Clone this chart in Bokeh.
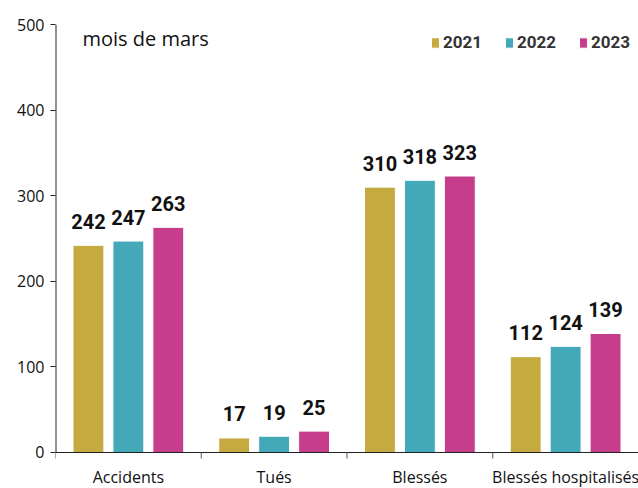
from bokeh.plotting import figure
from bokeh.models import FixedTicker, Legend, LegendItem, ColumnDataSource, Range1d, Label
from bokeh.core.properties import value
from bokeh.embed import file_html
from bokeh.resources import INLINE

categories = ["Accidents", "Tués", "Blessés", "Blessés hospitalisés"]
years = ["2021", "2022", "2023"]
v2021 = [242, 17, 310, 112]
v2022 = [247, 19, 318, 124]
v2023 = [263, 25, 323, 139]
colors = ["#C5AA40", "#43A8B8", "#C63E8B"]
series = [v2021, v2022, v2023]

p = figure(width=638, height=488, output_backend="svg", toolbar_location=None,
           x_range=Range1d(0, 4), y_range=Range1d(-42.06, 500),
           x_axis_location=None,
           min_border_left=55, min_border_right=0, min_border_top=24, min_border_bottom=0)
p.outline_line_color = None
p.xgrid.visible = False
p.ygrid.visible = False
p.background_fill_color = "white"
p.border_fill_color = "white"

offsets = [-0.274, 0.0, 0.274]
items = []
for i, (yr, vals, col) in enumerate(zip(years, series, colors)):
    xs = [k + 0.5 + offsets[i] for k in range(len(categories))]
    src = ColumnDataSource(dict(x=xs, top=vals, lab=[str(v) for v in vals]))
    r = p.vbar(x="x", top="top", bottom=0, width=0.212, source=src, fill_color=col,
               line_color="white", line_width=1)
    p.text(x="x", y="top", text="lab", source=src, text_align="center",
           text_baseline="alphabetic", y_offset=-24, text_font=value("Roboto"),
           text_font_style="bold", text_font_size="20px", text_color="#111111")
    items.append(LegendItem(label=yr, renderers=[r]))

# category axis drawn manually so labels sit like the reference
bounds = list(range(len(categories) + 1))
p.segment(x0=0, y0=0, x1=len(categories), y1=0, line_color="#222222", line_width=1)
p.segment(x0=0, y0=0, x1=0, y1=500, line_color="#222222", line_width=2)
p.segment(x0=bounds, y0=[0] * len(bounds), x1=bounds, y1=[-7] * len(bounds),
          line_color="#555555", line_width=1)
cat_src = ColumnDataSource(dict(x=[k + 0.5 for k in range(len(categories))],
                                y=[-29] * len(categories), t=categories))
p.text(x="x", y="y", text="t", source=cat_src, text_align="center", text_baseline="middle",
       text_font=value("Open Sans"), text_font_size="16px", text_color="#111111")

legend = Legend(items=items, orientation="horizontal", location="top_right",
                label_text_font="Roboto", label_text_font_style="bold",
                label_text_font_size="17px", label_text_color="#333333",
                glyph_width=10, glyph_height=13, label_standoff=3, spacing=22,
                padding=0, margin=8, border_line_color=None, background_fill_alpha=0)
p.add_layout(legend)

p.add_layout(Label(x=0.185, y=484, text="mois de mars",
                   text_font="Open Sans", text_font_size="20px", text_color="#111111",
                   text_baseline="middle"))

p.yaxis.ticker = FixedTicker(ticks=[0, 100, 200, 300, 400, 500])
p.yaxis.minor_tick_line_color = None
p.yaxis.major_tick_out = 5
p.yaxis.major_tick_in = 0
p.yaxis.axis_line_color = None
p.yaxis.major_tick_line_color = "#222222"
p.yaxis.major_label_standoff = 6
p.yaxis.major_label_text_font = "Open Sans"
p.yaxis.major_label_text_font_size = "16px"
p.yaxis.major_label_text_color = "#111111"

open("out.html", "w").write(file_html(p, INLINE))
